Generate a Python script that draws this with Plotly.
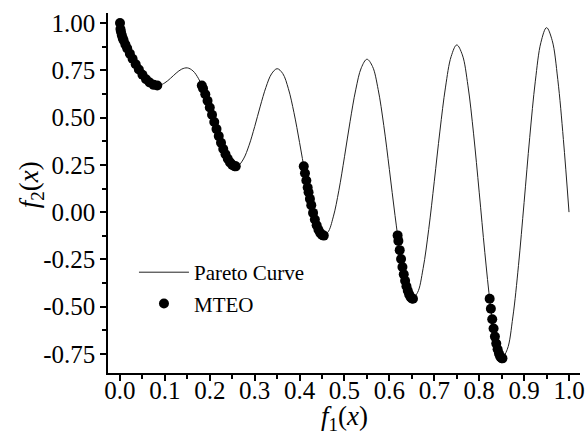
import plotly.graph_objects as go

# Pareto curve values (f1, f2)
curve_f1 = [0.0, 0.0125, 0.025, 0.0375, 0.05, 0.0625, 0.075, 0.0875, 0.1, 0.1125,
            0.125, 0.1375, 0.15, 0.1625, 0.175, 0.1875, 0.2, 0.2125, 0.225, 0.2375,
            0.25, 0.2625, 0.275, 0.2875, 0.3, 0.3125, 0.325, 0.3375, 0.35, 0.3625,
            0.375, 0.3875, 0.4, 0.4125, 0.425, 0.4375, 0.45, 0.4625, 0.475, 0.4875,
            0.5, 0.5125, 0.525, 0.5375, 0.55, 0.5625, 0.575, 0.5875, 0.6, 0.6125,
            0.625, 0.6375, 0.65, 0.6625, 0.675, 0.6875, 0.7, 0.7125, 0.725, 0.7375,
            0.75, 0.7625, 0.775, 0.7875, 0.8, 0.8125, 0.825, 0.8375, 0.85, 0.8625,
            0.875, 0.8875, 0.9, 0.9125, 0.925, 0.9375, 0.95, 0.9625, 0.975, 0.9875, 1.0]
curve_f2 = [1.0, 0.8834, 0.8242, 0.7717, 0.7264, 0.6923, 0.6731, 0.6707, 0.6838, 0.7076,
            0.7348, 0.7562, 0.7627, 0.7470, 0.7054, 0.6387, 0.5528, 0.4577, 0.3666, 0.2932,
            0.25, 0.2451, 0.2811, 0.3538, 0.4523, 0.5606, 0.6597, 0.7309, 0.7584, 0.7328,
            0.6528, 0.5258, 0.3675, 0.1999, 0.0476, -0.0656, -0.1208, -0.1074, -0.0251, 0.1152,
            0.2929, 0.4802, 0.6467, 0.7635, 0.8084, 0.7697, 0.6483, 0.4583, 0.2254, -0.0170,
            -0.2325, -0.3874, -0.4562, -0.4260, -0.2989, -0.0923, 0.1633, 0.4286, 0.6612, 0.8226,
            0.8840, 0.8313, 0.6677, 0.4140, 0.1056, -0.2123, -0.4917, -0.6889, -0.7720, -0.7256,
            -0.5541, -0.2817, 0.0513, 0.3940, 0.6923, 0.8979, 0.9753, 0.9082, 0.7020, 0.3842, 0.0]

# MTEO solutions (f1, f2)
mteo_f1 = [0.0, 0.001, 0.002, 0.004, 0.006, 0.008, 0.012, 0.016, 0.022, 0.028,
           0.035, 0.042, 0.050, 0.058, 0.066, 0.075, 0.083,
           0.1822, 0.185, 0.19, 0.195, 0.20, 0.205, 0.21, 0.215, 0.22, 0.225,
           0.23, 0.235, 0.24, 0.245, 0.25, 0.255, 0.2578,
           0.4093, 0.412, 0.415, 0.418, 0.42, 0.423, 0.426, 0.43, 0.434, 0.438,
           0.442, 0.446, 0.45, 0.4539,
           0.6183, 0.62, 0.623, 0.626, 0.629, 0.632, 0.635, 0.638, 0.641, 0.644,
           0.647, 0.65, 0.6525,
           0.8233, 0.826, 0.829, 0.832, 0.835, 0.838, 0.841, 0.844, 0.847, 0.85, 0.8518]
mteo_f2 = [1.0, 0.968, 0.955, 0.936, 0.921, 0.909, 0.886, 0.866, 0.838, 0.811,
           0.782, 0.754, 0.726, 0.703, 0.685, 0.673, 0.670,
           0.670, 0.654, 0.623, 0.589, 0.553, 0.515, 0.477, 0.439, 0.402, 0.367,
           0.334, 0.306, 0.282, 0.263, 0.250, 0.243, 0.242,
           0.242, 0.206, 0.167, 0.130, 0.105, 0.070, 0.037, -0.004, -0.039, -0.069,
           -0.093, -0.110, -0.121, -0.124,
           -0.123, -0.152, -0.201, -0.248, -0.290, -0.329, -0.363, -0.392, -0.416, -0.435,
           -0.449, -0.456, -0.458,
           -0.458, -0.511, -0.566, -0.615, -0.658, -0.695, -0.725, -0.748, -0.764, -0.772, -0.773]

# Tick values and labels
x_ticks = [0.0, 0.1, 0.2, 0.3, 0.4, 0.5, 0.6, 0.7, 0.8, 0.9, 1.0]
x_labels = ["0.0", "0.1", "0.2", "0.3", "0.4", "0.5", "0.6", "0.7", "0.8", "0.9", "1.0"]
y_ticks = [1.0, 0.75, 0.5, 0.25, 0.0, -0.25, -0.5, -0.75]
y_labels = ["1.00", "0.75", "0.50", "0.25", "0.00", "-0.25", "-0.50", "-0.75"]

FONT = "Liberation Serif"

fig = go.Figure()
fig.add_trace(go.Scatter(x=curve_f1, y=curve_f2, mode="lines", name="Pareto Curve",
                         legendgroup="a",
                         line=dict(color="#222222", width=1, shape="spline", smoothing=1.0)))
fig.add_trace(go.Scatter(x=mteo_f1, y=mteo_f2, mode="markers", name="MTEO",
                         legendgroup="b",
                         marker=dict(color="black", size=10)))

axis_common = dict(showline=True, linecolor="black", linewidth=1.5, ticks="outside",
                   ticklen=6, tickwidth=1.5, tickcolor="black", showgrid=False,
                   zeroline=False, mirror=False, automargin=False,
                   tickfont=dict(family=FONT, size=25, color="black"))

fig.update_xaxes(range=[-0.0267, 1.0245], tickmode="array", tickvals=x_ticks, ticktext=x_labels,
                 ticklabelstandoff=-12,
                 minor=dict(ticks="outside", ticklen=4, tickwidth=1.5, tickcolor="black",
                            dtick=0.05, tick0=0, showgrid=False),
                 **axis_common)
fig.update_yaxes(range=[-0.8505, 1.0529], tickmode="array", tickvals=y_ticks, ticktext=y_labels,
                 minor=dict(ticks="outside", ticklen=4, tickwidth=1.5, tickcolor="black",
                            dtick=0.125, tick0=0, showgrid=False),
                 **axis_common)

fig.add_annotation(text="<i>f</i><sub>1</sub>(<i>x</i>)", xref="paper", yref="paper",
                   x=0.502, y=-0.125, xanchor="center", yanchor="middle", showarrow=False,
                   font=dict(family=FONT, size=27, color="black"))
fig.add_annotation(text="<i>f</i><sub>2</sub>(<i>x</i>)", xref="paper", yref="paper",
                   x=-0.163, y=0.522, xanchor="center", yanchor="middle", showarrow=False,
                   textangle=-90, font=dict(family=FONT, size=27, color="black"))

fig.update_layout(width=586, height=434, plot_bgcolor="white", paper_bgcolor="white",
                  margin=dict(l=108, r=6, t=13, b=61),
                  font=dict(family=FONT, color="black"),
                  legend=dict(x=0.055, y=0.336, xanchor="left", yanchor="top",
                              bgcolor="rgba(0,0,0,0)", font=dict(family=FONT, size=21),
                              tracegroupgap=1, itemwidth=50))

fig.write_html("out.html", config={"displayModeBar": False},
               post_script="document.body.style.margin='0';document.body.style.overflow='hidden';")
